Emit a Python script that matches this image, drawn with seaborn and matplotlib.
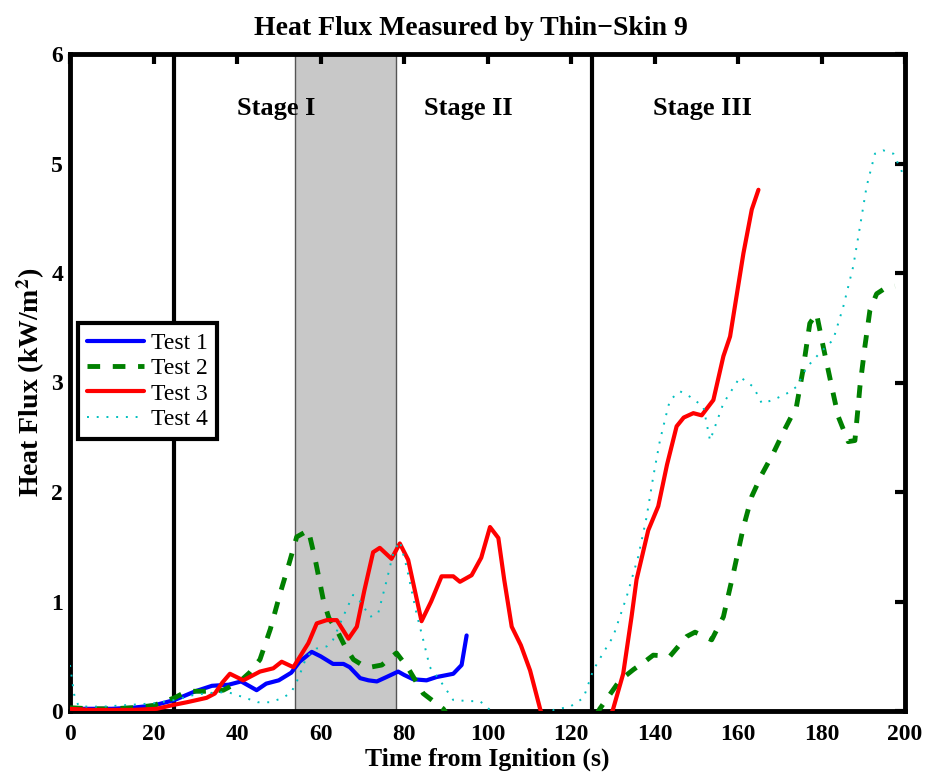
import matplotlib
matplotlib.use("Agg")
import matplotlib.pyplot as plt
import seaborn as sns
import pandas as pd

# ---- data ----
test1_t = [0, 5, 10, 15, 20, 25, 30, 34, 38, 41, 44.7, 47, 50, 53, 55, 57.9, 60, 63, 65.5, 67,
           69.5, 71.5, 73.5, 75.8, 78.6, 80, 82.2, 85.4, 87.8, 91.8, 93.8, 95]
test1_q = [0.02, 0.02, 0.02, 0.03, 0.05, 0.10, 0.18, 0.23, 0.24, 0.27, 0.19, 0.25, 0.28, 0.35, 0.45,
           0.54, 0.50, 0.43, 0.43, 0.40, 0.30, 0.28, 0.27, 0.31, 0.36, 0.33, 0.29, 0.28, 0.31, 0.34,
           0.42, 0.69]

test2_t = [0, 5, 10, 15, 20, 25, 28, 32, 36.7, 40.7, 43, 45.5, 48, 50.3, 52.5, 54.3, 57.1, 58.7,
           60.7, 62, 63.9, 66, 67.9, 70, 71.9, 74.7, 76.6, 78.2, 81, 84.6, 89.4, 95, 105, 115, 122,
           126.9, 131.7, 135, 137.3, 139.7, 143.7, 147.7, 149.7, 153.7, 156.5, 158.9, 161.3, 163.3,
           165.7, 168.4, 171.3, 174, 175.5, 177.2, 178.8, 180.4, 182.8, 184, 186.4, 188, 188.8,
           189.2, 190.4, 191.6, 193.2, 195.6, 197.6]
test2_q = [0.03, 0.02, 0.02, 0.03, 0.05, 0.12, 0.18, 0.18, 0.19, 0.27, 0.35, 0.47, 0.75, 1.07, 1.35,
           1.59, 1.65, 1.39, 1.01, 0.85, 0.74, 0.58, 0.47, 0.42, 0.40, 0.42, 0.48, 0.53, 0.39, 0.16,
           0.02, -0.3, -0.5, -0.5, -0.3, 0.02, 0.28, 0.38, 0.44, 0.51, 0.50, 0.68, 0.72, 0.65, 0.86,
           1.26, 1.68, 1.96, 2.16, 2.35, 2.58, 2.78, 3.10, 3.54, 3.63, 3.33, 2.90, 2.69, 2.46, 2.47,
           2.79, 2.96, 3.33, 3.66, 3.81, 3.87, 3.88]

test3_t = [0, 5, 10, 15, 20.8, 24.7, 28, 32.7, 34.7, 36.5, 38.3, 41.5, 45.5, 48.7, 50.7, 53.5, 57.1,
           59.1, 61.5, 63.9, 66.7, 68.7, 70.5, 72.6, 74.2, 77, 79, 81, 84.2, 86.5, 89, 91.8, 93.4,
           96.2, 98.5, 100.6, 102.6, 104, 105.8, 108, 110.2, 112.6, 116, 120, 125, 128, 130.1,
           132.5, 134.5, 135.7, 138.5, 140.9, 143, 145.3, 147, 149.3, 151.3, 154.1, 156.5, 158.1,
           161.3, 163.3, 164.9]
test3_q = [0.02, 0.01, 0.01, 0.01, 0.02, 0.055, 0.08, 0.12, 0.16, 0.26, 0.34, 0.28, 0.36, 0.39,
           0.45, 0.40, 0.62, 0.80, 0.83, 0.83, 0.66, 0.77, 1.10, 1.45, 1.49, 1.39, 1.53, 1.38, 0.82,
           1.00, 1.23, 1.23, 1.18, 1.24, 1.40, 1.68, 1.58, 1.20, 0.77, 0.60, 0.37, 0.02, -0.4, -0.6,
           -0.5, -0.2, 0.02, 0.34, 0.86, 1.20, 1.65, 1.87, 2.25, 2.60, 2.68, 2.72, 2.70, 2.84, 3.24,
           3.42, 4.18, 4.58, 4.76]

test4_t = [0, 1, 2, 4, 8, 12, 16, 20, 25, 30, 35, 38, 42, 45, 48, 51, 53, 54.7, 56.7, 59, 61.5,
           63, 65.4, 67.8, 69.5, 71.9, 73.8, 75.9, 77.4, 79, 80.6, 83, 84.6, 86.2, 88.6, 91.8, 95.8,
           98.2, 100.6, 104, 110, 115.8, 119.8, 123, 125.3, 127.7, 130.1, 133.3, 136.1, 138.1,
           139.7, 141.3, 142.9, 143.7, 146.1, 148.5, 151.7, 153.3, 156.5, 160.5, 163.7, 165.7,
           168.4, 171.7, 174, 176.5, 179.6, 182.8, 185.2, 187.6, 189.2, 190.8, 192.8, 194.8, 197.2,
           199.2, 200]
test4_q = [0.42, 0.15, 0.05, 0.04, 0.04, 0.05, 0.06, 0.07, 0.10, 0.15, 0.17, 0.17, 0.12, 0.08,
           0.08, 0.12, 0.17, 0.30, 0.50, 0.57, 0.59, 0.65, 0.86, 1.06, 1.00, 0.86, 0.89, 1.20, 1.44,
           1.55, 1.32, 0.89, 0.65, 0.40, 0.28, 0.10, 0.09, 0.09, 0.01, -0.3, -0.4, 0.01, 0.04, 0.12,
           0.37, 0.53, 0.68, 1.04, 1.41, 1.77, 2.14, 2.47, 2.72, 2.84, 2.92, 2.87, 2.78, 2.47, 2.81,
           3.05, 2.96, 2.81, 2.84, 2.90, 2.96, 3.14, 3.27, 3.39, 3.69, 4.06, 4.42, 4.79, 5.09, 5.12,
           5.09, 4.93, 4.95]

series_names = ["Test 1", "Test 2", "Test 3", "Test 4"]
stage_bounds = [25, 125]
shade_range = [54, 78]
stage_labels = ["Stage I", "Stage II", "Stage III"]
stage_label_x = [49.5, 95.5, 151.5]
x_ticks = [0, 20, 40, 60, 80, 100, 120, 140, 160, 180, 200]
y_ticks = [0, 1, 2, 3, 4, 5, 6]

# ---- style ----
sns.set_theme(style="white")
plt.rcParams["font.family"] = ["Liberation Serif", "DejaVu Serif"]
plt.rcParams["mathtext.fontset"] = "stix"
for key in ["text.color", "axes.labelcolor", "xtick.color", "ytick.color", "axes.titlecolor"]:
    plt.rcParams[key] = "black"

fig = plt.figure(figsize=(9.27, 7.72), dpi=100)
ax = fig.add_axes([70 / 927, 61 / 772, 835 / 927, 657 / 772])

ax.axvspan(shade_range[0], shade_range[1], facecolor="#c8c8c8", edgecolor="#555555",
           linewidth=1.0, zorder=0)
for xb in stage_bounds:
    ax.axvline(xb, color="black", linewidth=3, zorder=1)

styles = [
    dict(color="#0000ff", linewidth=3.0, linestyle="-"),
    dict(color="#008000", linewidth=3.5, linestyle=(0, (2.6, 2.6))),
    dict(color="#ff0000", linewidth=3.0, linestyle="-"),
    dict(color="#00bfbf", linewidth=1.4, linestyle=(0, (1, 4))),
]
data = [(test1_t, test1_q), (test2_t, test2_q), (test3_t, test3_q), (test4_t, test4_q)]
for name, (t, q), st in zip(series_names, data, styles):
    df = pd.DataFrame({"t": t, "q": q})
    sns.lineplot(data=df, x="t", y="q", ax=ax, label=name, estimator=None, sort=False,
                 zorder=3, **st)

ax.set_xlim(0, 200)
ax.set_ylim(0, 6)
ax.set_xticks(x_ticks)
ax.set_yticks(y_ticks)
ax.tick_params(axis="both", which="major", direction="in", length=7, width=3,
               top=True, right=True, labelsize=17, colors="black")
ax.tick_params(axis="x", pad=9)
ax.tick_params(axis="y", pad=5)
for lab in ax.get_xticklabels() + ax.get_yticklabels():
    lab.set_fontweight("bold")
for sp in ax.spines.values():
    sp.set_linewidth(3.5)
    sp.set_color("black")

for lab, xl in zip(stage_labels, stage_label_x):
    ax.text(xl, 5.5, lab, ha="center", va="center", fontsize=19, fontweight="bold",
            color="black", zorder=4)

ax.set_title("Heat Flux Measured by Thin\u2212Skin 9", fontsize=20, fontweight="bold", pad=14,
             x=0.48, color="black")
ax.set_xlabel("Time from Ignition (s)", fontsize=18.5, fontweight="bold", labelpad=2,
              color="black")
ax.set_ylabel(r"Heat Flux (kW/m$^\mathbf{2}$)", fontsize=20, fontweight="bold", labelpad=3,
              color="black")

leg = ax.legend(loc="upper left", bbox_to_anchor=(0.009, 0.5906), fontsize=17, frameon=True,
                fancybox=False, framealpha=1, edgecolor="black", handlelength=2.4,
                borderpad=0.4, labelspacing=0.16, handletextpad=0.3, borderaxespad=0)
leg.get_frame().set_linewidth(3)
leg.set_zorder(5)
for txt in leg.get_texts():
    txt.set_color("black")

fig.savefig("out.png", dpi=100)
